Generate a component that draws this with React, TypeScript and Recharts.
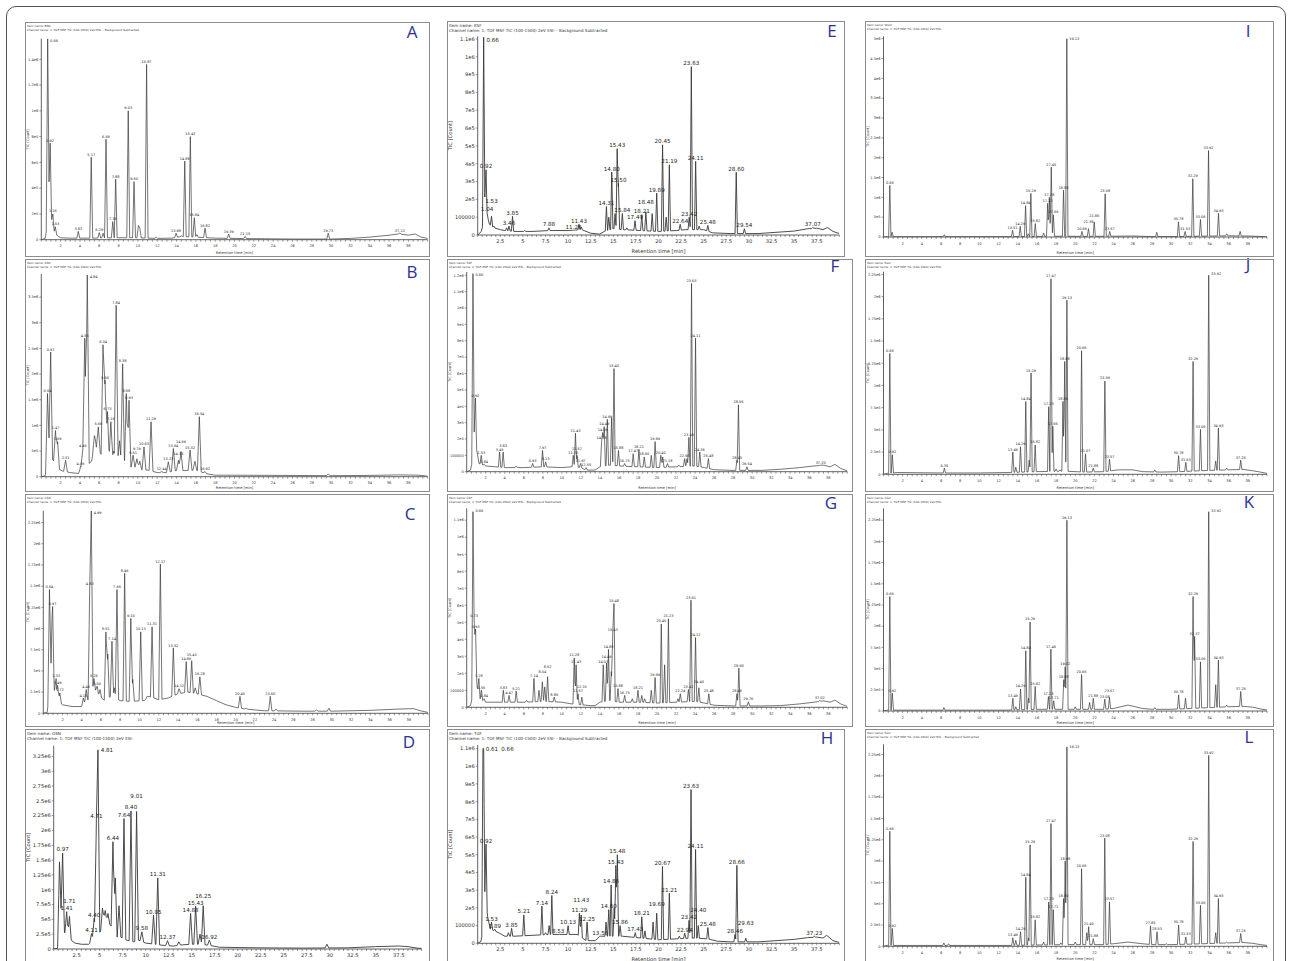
import React from "react";
import { LineChart, Line, XAxis, YAxis, LabelList, Label } from "recharts";

type Peak = [number, number, string];
type Pt = [number, number];

// ---- tick labels ----
const xTicksSmall = [2, 4, 6, 8, 10, 12, 14, 16, 18, 20, 22, 24, 26, 28, 30, 32, 34, 36, 38];
const xTicksBig = [2.5, 5, 7.5, 10, 12.5, 15, 17.5, 20, 22.5, 25, 27.5, 30, 32.5, 35, 37.5];

const aYTicks = [0, 2e5, 4e5, 6e5, 8e5, 1e6, 1.2e6, 1.4e6];
const aYLabels = ["0", "2e5", "4e5", "6e5", "8e5", "1e6", "1.2e6", "1.4e6"];
const bYTicks = [0, 5e5, 1e6, 1.5e6, 2e6, 2.5e6, 3e6, 3.5e6];
const bYLabels = ["0", "5e5", "1e6", "1.5e6", "2e6", "2.5e6", "3e6", "3.5e6"];
const qYTicks = [0, 2.5e5, 5e5, 7.5e5, 1e6, 1.25e6, 1.5e6, 1.75e6, 2e6, 2.25e6];
const qYLabels = ["0", "2.5e5", "5e5", "7.5e5", "1e6", "1.25e6", "1.5e6", "1.75e6", "2e6", "2.25e6"];
const dYTicks = [0, 2.5e5, 5e5, 7.5e5, 1e6, 1.25e6, 1.5e6, 1.75e6, 2e6, 2.25e6, 2.5e6, 2.75e6, 3e6, 3.25e6];
const dYLabels = ["0", "2.5e5", "5e5", "7.5e5", "1e6", "1.25e6", "1.5e6", "1.75e6", "2e6", "2.25e6", "2.5e6", "2.75e6", "3e6", "3.25e6"];
const eYTicks = [0, 1e5, 2e5, 3e5, 4e5, 5e5, 6e5, 7e5, 8e5, 9e5, 1e6, 1.1e6];
const eYLabels = ["0", "100000", "2e5", "3e5", "4e5", "5e5", "6e5", "7e5", "8e5", "9e5", "1e6", "1.1e6"];
const fYTicks = [0, 1e5, 2e5, 3e5, 4e5, 5e5, 6e5, 7e5, 8e5, 9e5, 1e6, 1.1e6, 1.2e6];
const fYLabels = ["0", "100000", "2e5", "3e5", "4e5", "5e5", "6e5", "7e5", "8e5", "9e5", "1e6", "1.1e6", "1.2e6"];
const iYTicks = [0, 5e5, 1e6, 1.5e6, 2e6, 2.5e6, 3e6, 3.5e6, 4e6, 4.5e6, 5e6];
const iYLabels = ["0", "5e5", "1e6", "1.5e6", "2e6", "2.5e6", "3e6", "3.5e6", "4e6", "4.5e6", "5e6"];

// ---- peaks: [retention time, apex TIC, label] ----
const aPeaks: Peak[] = [
  [0.66, 1.56e6, "0.66"], [0.92, 7.5e5, "0.92"], [1.2, 2.0e5, "1.16"], [1.45, 1.0e5, "1.53"], [3.83, 6.5e4, "3.83"],
  [5.17, 6.4e5, "5.17"], [6.0, 5.5e4, "6.29"], [6.4, 5e4, ""], [6.7, 7.8e5, "6.66"], [7.4, 1.4e5, "7.36"],
  [7.7, 4.7e5, "7.88"], [9.0, 1.0e6, "9.03"], [9.6, 4.5e5, "9.60"], [10.05, 1.1e5, ""], [10.2, 9e4, ""],
  [10.9, 1.36e6, "10.87"], [11.9, 2e4, ""], [13.95, 5e4, "13.98"], [14.5, 3e4, ""], [14.85, 6.1e5, "14.88"],
  [15.43, 8.0e5, "15.43"], [15.84, 1.7e5, "15.84"], [16.1, 4e4, ""], [16.95, 9e4, "16.82"], [19.4, 4.4e4, "19.39"],
  [21.1, 2.6e4, "21.15"], [29.7, 5e4, "29.73"], [37.12, 5.2e4, "37.12"],
];
const aBase: Pt[] = [
  [0, 0], [0.4, 1e4], [0.6, 1e5], [0.8, 3.5e5], [1.05, 1.5e5], [1.3, 5e4], [2, 1.5e4], [3, 1.2e4], [5, 1.2e4],
  [8, 1.5e4], [10, 1.5e4], [12, 1e4], [13.5, 1.2e4], [14.5, 2.5e4], [16, 2e4], [18, 1.2e4], [22, 8e3], [26, 5e3],
  [30, 5e3], [32, 1e4], [34, 2e4], [36, 3.5e4], [37, 4.5e4], [38, 3.5e4], [38.7, 4.5e4], [39.3, 2e4], [40, 1e4],
];

const bPeaks: Peak[] = [
  [0.64, 1.62e6, "0.64"], [0.97, 2.43e6, "0.97"], [1.47, 9.0e5, "1.47"], [1.69, 6.8e5, "1.69"], [2.51, 3.2e5, "2.51"],
  [4.06, 2.0e5, "4.06"], [4.3, 5.5e5, "4.45"], [4.5, 2.7e6, "4.55"], [4.76, 3.93e6, "4.84"], [5.5, 8e5, ""],
  [5.9, 9.7e5, "5.66"], [6.39, 2.57e6, "6.34"], [6.6, 1.88e6, "6.56"], [6.85, 1.27e6, "6.73"], [7.2, 1.07e6, "7.16"],
  [7.5, 5e5, ""], [7.75, 3.34e6, "7.84"], [8.1, 7e5, ""], [8.42, 2.2e6, "8.38"], [8.8, 1.62e6, "8.68"],
  [9.08, 1.49e6, "8.93"], [9.5, 4.2e5, "9.51"], [9.9, 3.5e5, "9.79"], [10.2, 3e5, ""], [10.63, 5.8e5, "10.63"],
  [11.36, 1.07e6, "11.29"], [12.46, 1e5, "12.44"], [13.15, 2.9e5, "13.23"], [13.67, 5.5e5, "13.64"],
  [14.19, 3.2e5, "14.35"], [14.46, 4.9e5, "14.69"], [15.4, 5.2e5, "15.32"], [15.9, 3e5, ""], [16.36, 1.17e6, "16.54"],
  [16.95, 1e5, "16.92"], [29.7, 5e4, ""],
];
const bBase: Pt[] = [
  [0, 0], [0.4, 2e4], [0.6, 1e5], [0.8, 4.5e5], [1.1, 3.5e5], [1.5, 2.5e5], [1.8, 1.5e5], [2.2, 1.1e5], [3, 8e4],
  [4, 6e4], [4.3, 1.5e5], [5.2, 3e5], [5.4, 5e5], [5.6, 6e5], [6, 5e5], [6.3, 4e5], [7, 3e5], [7.4, 3.5e5],
  [8, 3e5], [8.7, 1.5e5], [9.5, 2e5], [10.5, 1.3e5], [11, 1.3e5], [12, 8e4], [13, 8e4], [14, 1.2e5], [15, 1.2e5],
  [16, 1.3e5], [17, 6e4], [18, 3e4], [25, 2.5e4], [30, 2e4], [34, 2.5e4], [37, 3.5e4], [39, 3e4], [40, 1e4],
];

const cPeaks: Peak[] = [
  [0.64, 1.46e6, "0.64"], [0.97, 1.26e6, "0.97"], [1.33, 4.1e5, "1.33"], [1.49, 3.3e5, "1.49"], [1.72, 2.4e5, "1.72"],
  [4.16, 1.8e5, "4.16"], [4.46, 2.8e5, "4.46"], [4.83, 1.5e6, "4.83"], [4.99, 2.39e6, "4.99"], [5.26, 4.1e5, "5.26"],
  [5.6, 3.2e5, "5.60"], [5.9, 2.8e5, ""], [6.51, 9.6e5, "6.51"], [6.7, 7e5, ""], [7.14, 8.5e5, "7.14"],
  [7.4, 3e5, ""], [7.66, 1.46e6, "7.66"], [8.46, 1.65e6, "8.46"], [9.1, 1.12e6, "9.10"], [9.3, 4e5, ""],
  [10.13, 9.6e5, "10.13"], [10.8, 2e5, ""], [11.31, 1.02e6, "11.31"], [12.17, 1.76e6, "12.17"], [13.52, 7.7e5, "13.52"],
  [14.12, 2.9e5, "14.12"], [14.86, 6.1e5, "14.86"], [15.43, 6.2e5, "15.43"], [15.8, 3e5, ""], [16.28, 4.3e5, "16.28"],
  [20.45, 2e5, "20.45"], [21.1, 6e4, ""], [23.6, 2e5, "23.60"], [24.2, 5e4, ""], [28.4, 4e4, ""], [29.7, 6e4, ""],
];
const cBase: Pt[] = [
  [0, 0], [0.4, 1e4], [0.6, 2e5], [0.9, 7e5], [1.1, 3e5], [1.4, 1.5e5], [2, 1e5], [3, 8e4], [4, 8e4], [4.6, 1.5e5],
  [5.3, 3e5], [5.8, 2e5], [6.4, 1.5e5], [7, 2e5], [8, 1.5e5], [9, 1.4e5], [10.5, 1.5e5], [11, 2e5], [12, 1.6e5],
  [13, 1.8e5], [14, 2.3e5], [15, 2.5e5], [16, 2.3e5], [17, 2e5], [18, 1.5e5], [19, 1e5], [20, 7e4], [21, 5e4],
  [23, 3e4], [27, 2.5e4], [30, 2.5e4], [34, 3.5e4], [37, 5e4], [38.5, 5.5e4], [39.2, 3e4], [40, 1e4],
];

const dPeaks: Peak[] = [
  [0.63, 1.47e6, ""], [0.97, 1.62e6, "0.97"], [1.41, 6.3e5, "1.41"], [1.71, 5.5e5, "1.71"], [4.11, 2.6e5, "4.11"],
  [4.4, 5.2e5, "4.40"], [4.64, 2.18e6, "4.71"], [4.81, 3.36e6, "4.81"], [5.3, 6.9e5, ""], [5.6, 6.5e5, ""],
  [5.9, 6.0e5, ""], [6.44, 1.81e6, "6.44"], [6.7, 1.2e6, ""], [7.1, 7.3e5, ""], [7.64, 2.2e6, "7.64"],
  [8.4, 2.33e6, "8.40"], [9.01, 2.32e6, "9.01"], [9.58, 2.9e5, "9.58"], [10.85, 5.7e5, "10.85"], [11.31, 1.2e6, "11.31"],
  [12.37, 1.4e5, "12.37"], [13.6, 1.2e5, ""], [14.88, 6.0e5, "14.88"], [15.43, 7.2e5, "15.43"], [15.9, 2.5e5, ""],
  [16.25, 7.3e5, "16.25"], [16.92, 1.5e5, "16.92"], [29.7, 8e4, ""],
];
const dBase: Pt[] = [
  [0, 0], [0.4, 1e4], [0.55, 2e5], [0.8, 5e5], [1.1, 3e5], [1.3, 2.5e5], [1.5, 2e5], [1.9, 1.5e5], [2.3, 1e5],
  [3, 8e4], [3.8, 8e4], [4.3, 1.5e5], [5.1, 3e5], [5.3, 5e5], [6.2, 4e5], [6.9, 2e5], [7.3, 2e5], [7.9, 1.5e5],
  [8.7, 1.2e5], [9.2, 1.5e5], [10, 1e5], [11, 8e4], [12, 6e4], [13, 5e4], [14, 7e4], [15, 8e4], [16, 8e4],
  [17, 6e4], [18, 3e4], [22, 2e4], [27, 1.5e4], [32, 2e4], [35, 4e4], [37.5, 5e4], [38.5, 4e4], [39.5, 1.5e4], [40, 1e4],
];

const ePeaks: Peak[] = [
  [0.66, 1.11e6, "0.66"], [0.92, 3.66e5, "0.92"], [1.04, 1.23e5, "1.04"], [1.53, 1.05e5, "1.53"], [1.8, 5e4, ""],
  [3.2, 4e4, ""], [3.46, 5e4, "3.46"], [3.85, 1.05e5, "3.85"], [5.2, 2.5e4, ""], [7.88, 4e4, "7.88"],
  [10.6, 2.5e4, "11.28"], [11.2, 6e4, "11.43"], [11.45, 4.5e4, ""], [14.24, 1.6e5, "14.31"], [14.5, 1e5, ""],
  [14.83, 3.53e5, "14.80"], [15.2, 1.2e5, ""], [15.43, 4.84e5, "15.43"], [15.57, 2.9e5, "15.50"], [16.0, 1.2e5, "15.84"],
  [16.5, 4e4, ""], [17.4, 8e4, "17.49"], [18.15, 1.14e5, "18.21"], [18.6, 1.3e5, "18.48"], [19.3, 1.2e5, ""],
  [19.8, 2.35e5, "19.89"], [20.45, 5.06e5, "20.45"], [20.85, 1e5, ""], [21.2, 3.94e5, "21.19"], [22.4, 6e4, "22.64"],
  [23.4, 1.0e5, "23.42"], [23.63, 9.45e5, "23.63"], [24.11, 4.13e5, "24.11"], [24.5, 5e4, ""], [25.46, 5.4e4, "25.48"],
  [28.6, 3.52e5, "28.60"], [29.5, 3.5e4, "29.54"], [37.07, 4.3e4, "37.07"],
];
const eBase: Pt[] = [
  [0, 0], [0.4, 2e4], [0.55, 5e4], [0.8, 2.2e5], [1.0, 1.2e5], [1.3, 6e4], [1.8, 4e4], [2.5, 3e4], [3, 2.5e4],
  [4, 2e4], [6, 2e4], [8, 2.5e4], [10, 2.5e4], [11.5, 3e4], [12.5, 1e4], [13.5, 5e3], [14, 2e4], [15, 3.5e4],
  [16, 3e4], [18, 2.5e4], [20, 2e4], [22, 2.5e4], [23, 3e4], [25, 3e4], [26, 1.2e4], [28, 8e3], [31, 8e3],
  [33, 1.5e4], [35, 2.2e4], [36.5, 3.5e4], [37.5, 3.8e4], [38.2, 3e4], [38.7, 4.2e4], [39.3, 2e4], [40, 8e3],
];

const fPeaks: Peak[] = [
  [0.66, 1.21e6, "0.66"], [0.92, 4.5e5, "0.92"], [1.53, 1.0e5, "1.53"], [1.84, 4.5e4, "1.84"], [3.46, 1.2e5, "3.46"],
  [3.83, 1.2e5, "3.83"], [5.2, 3.5e4, ""], [6.93, 5e4, "6.93"], [7.97, 1.3e5, "7.97"], [8.3, 6e4, "8.13"],
  [11.2, 1e5, "11.26"], [11.43, 2.35e5, "11.43"], [11.6, 1e5, "11.57"], [11.97, 5e4, "11.97"], [12.55, 2.5e4, "12.55"],
  [14.18, 1.9e5, "14.28"], [14.3, 2.4e5, "14.09"], [14.45, 2.75e5, "14.49"], [14.78, 3.2e5, "14.69"], [15.23, 3.3e5, ""],
  [15.48, 6.3e5, "15.40"], [15.95, 1.3e5, "15.88"], [16.6, 5e4, "16.75"], [17.5, 1.1e5, "17.47"], [18.1, 1.37e5, "18.21"],
  [18.66, 9e4, "18.60"], [19.4, 1e5, ""], [19.8, 1.84e5, "19.69"], [20.4, 1.0e5, "20.40"], [20.6, 9e4, ""],
  [21.1, 5e4, "21.18"], [22.3, 4e4, ""], [22.9, 8e4, "22.93"], [23.15, 8e4, ""], [23.35, 2.1e5, "23.40"],
  [23.63, 1.15e6, "23.63"], [24.05, 8.16e5, "24.11"], [24.5, 1.2e5, "24.36"], [25.4, 8e4, "25.48"], [28.4, 7e4, "28.45"],
  [28.56, 4.08e5, "28.56"], [29.45, 3e4, "29.54"], [37.2, 4e4, "37.20"],
];
const fBase: Pt[] = [
  [0, 0], [0.4, 1e4], [0.55, 5e4], [0.8, 2.5e5], [1.0, 1.5e5], [1.3, 5e4], [2, 3.5e4], [3, 3e4], [4, 2.5e4],
  [6, 2.5e4], [8, 3e4], [10, 2.5e4], [11, 3e4], [12, 2.5e4], [12.5, 1e4], [13.5, 1e4], [14, 3e4], [15, 4e4],
  [16, 3.5e4], [18, 3e4], [20, 2.5e4], [22, 3e4], [24, 3.5e4], [25, 2.5e4], [26, 1.2e4], [28, 8e3], [31, 8e3],
  [33, 1.5e4], [35, 2.5e4], [36.5, 3.5e4], [37.5, 4e4], [38.2, 3e4], [38.7, 4.5e4], [39.3, 2e4], [40, 5e3],
];

const gPeaks: Peak[] = [
  [0.66, 1.15e6, "0.66"], [0.78, 5.2e5, "0.73"], [0.93, 4.6e5, "0.93"], [1.28, 1.7e5, "1.28"], [1.55, 1.0e5, "1.55"],
  [1.84, 5e4, "1.84"], [3.85, 1.0e5, "3.83"], [4.45, 7e4, "4.47"], [5.2, 9.5e4, "5.21"], [6.3, 4e4, ""],
  [7.07, 1.7e5, "7.14"], [7.6, 1e5, ""], [7.95, 1.5e5, "8.04"], [8.2, 1.2e5, ""], [8.5, 1.8e5, "8.52"],
  [9.2, 6e4, "8.86"], [11.3, 2.9e5, "11.28"], [11.5, 2.5e5, "11.43"], [11.7, 8e4, "11.57"], [12.1, 6e4, "12.15"],
  [14.35, 2.5e5, "14.03"], [14.7, 2.6e5, "14.49"], [14.9, 3.4e5, "14.88"], [15.2, 2.1e5, ""], [15.35, 4.4e5, "15.43"],
  [15.48, 6.1e5, "15.48"], [15.9, 1.1e5, "15.88"], [16.6, 7e4, "16.75"], [17.4, 5e4, ""], [18.0, 1.0e5, "18.21"],
  [18.4, 7e4, ""], [18.7, 5e4, ""], [19.4, 1.0e5, ""], [19.8, 1.75e5, "19.69"], [20.45, 4.9e5, "20.45"],
  [20.8, 2.5e5, ""], [21.2, 5.2e5, "21.23"], [22.2, 5e4, ""], [22.45, 8e4, "22.24"], [23.3, 1.05e5, "23.42"],
  [23.57, 6.3e5, "23.61"], [24.05, 4.1e5, "24.12"], [24.4, 1.15e5, "24.40"], [25.45, 8e4, "25.48"], [28.4, 8e4, "28.46"],
  [28.6, 2.3e5, "28.60"], [29.6, 3.2e4, "29.76"], [37.1, 4e4, "37.02"],
];
const gBase: Pt[] = [
  [0, 0], [0.4, 1e4], [0.55, 5e4], [0.85, 3e5], [1.1, 1.2e5], [1.4, 5e4], [2, 3e4], [3, 3e4], [6, 3e4],
  [8, 3.5e4], [10, 3e4], [11, 2e4], [12, 1.5e4], [13, 1e4], [13.5, 1e4], [14, 3e4], [15, 4e4], [16, 3e4],
  [18, 3e4], [20, 2.5e4], [22, 3e4], [24, 3.5e4], [25, 2.5e4], [26, 1.2e4], [28, 8e3], [31, 8e3], [33, 1e4],
  [35, 2e4], [36.5, 3e4], [37.5, 3.8e4], [38.2, 3e4], [38.7, 4.2e4], [39.3, 2e4], [40, 5e3],
];

const hPeaks: Peak[] = [
  [0.58, 1.1e6, "0.61"], [0.66, 1.1e6, "0.66"], [0.92, 5.6e5, "0.92"], [1.53, 1.2e5, "1.53"], [1.89, 8e4, "1.89"],
  [3.4, 6e4, ""], [3.75, 8.5e4, "3.85"], [5.1, 1.6e5, "5.21"], [7.1, 2.1e5, "7.14"], [7.5, 6e4, ""],
  [7.9, 1e5, ""], [8.2, 2.7e5, "8.24"], [8.9, 5e4, "8.53"], [10.0, 1.0e5, "10.13"], [11.25, 1.7e5, "11.29"],
  [11.45, 1.6e5, "11.43"], [12.1, 1.2e5, "12.25"], [13.56, 4e4, "13.56"], [14.2, 1.2e5, ""], [14.5, 1.9e5, "14.60"],
  [14.76, 3.3e5, "14.86"], [15.1, 2e5, ""], [15.28, 4.4e5, "15.43"], [15.45, 5.0e5, "15.48"], [15.75, 1e5, "15.86"],
  [17.43, 6e4, "17.43"], [18.15, 1.5e5, "18.21"], [18.5, 7e4, ""], [19.4, 1.2e5, ""], [19.8, 1.7e5, "19.69"],
  [20.44, 4.34e5, "20.67"], [21.2, 2.83e5, "21.21"], [22.3, 4e4, ""], [22.9, 5.7e4, "22.94"], [23.38, 1.3e5, "23.42"],
  [23.6, 8.68e5, "23.63"], [24.1, 5.3e5, "24.11"], [24.4, 1.0e5, "24.40"], [25.46, 8.9e4, "25.48"], [28.46, 5e4, "28.46"],
  [28.67, 4.4e5, "28.66"], [29.66, 2.8e4, "29.63"], [37.23, 4e4, "37.23"],
];
const hBase: Pt[] = [
  [0, 0], [0.35, 1e4], [0.5, 5e4], [0.8, 3e5], [1.1, 1.5e5], [1.4, 8e4], [2.3, 6e4], [3, 4e4], [4, 4e4],
  [6, 4.5e4], [8, 5e4], [10, 5e4], [11, 5e4], [12, 1.5e4], [13, 1.5e4], [13.5, 4e4], [16, 4e4], [17, 3.5e4],
  [20, 2e4], [22, 2.5e4], [24, 3e4], [25.5, 2.5e4], [26.5, 1.2e4], [28, 8e3], [31, 8e3], [33, 1.5e4], [35, 2.2e4],
  [36.5, 3.2e4], [37.5, 3.5e4], [38.2, 3e4], [38.6, 4.5e4], [39.3, 1.5e4], [40, 5e3],
];

const iPeaks: Peak[] = [
  [0.66, 1.3e6, "0.66"], [0.9, 1.2e5, ""], [6.34, 6e4, ""], [13.46, 1.7e5, "13.51"], [14.26, 2.7e5, "14.29"],
  [14.82, 7.9e5, "14.84"], [15.1, 8e4, ""], [15.37, 1.1e6, "15.29"], [15.83, 3.4e5, "15.82"], [16.7, 1e5, ""],
  [17.12, 8.5e5, "17.22"], [17.3, 1.0e6, "17.28"], [17.5, 1.76e6, "17.45"], [17.72, 5.6e5, "17.66"],
  [18.78, 1.18e6, "18.88"], [19.12, 5.0e6, "19.13"], [20.7, 1.4e5, "20.66"], [21.38, 2.1e5, "21.38"],
  [21.98, 3.8e5, "21.86"], [23.12, 1.09e6, "23.08"], [23.6, 1.4e5, "23.57"], [28.5, 1.2e5, ""], [30.77, 3.8e5, "30.78"],
  [31.46, 1.4e5, "31.53"], [32.26, 1.47e6, "32.29"], [33.06, 4.4e5, "33.06"], [33.9, 2.18e6, "33.92"],
  [34.94, 6e5, "34.93"], [35.8, 8e4, ""], [37.2, 1.4e5, ""],
];
const iBase: Pt[] = [
  [0, 0], [0.4, 1e4], [1.5, 8e3], [6, 8e3], [13, 1e4], [16, 1.5e4], [19, 2e4], [21, 1.5e4], [24, 2e4], [26, 2.5e4],
  [28, 1e4], [30, 1e4], [33, 2e4], [36, 3e4], [38, 2.5e4], [39.2, 1.5e4], [40, 5e3],
];

const jPeaks: Peak[] = [
  [0.66, 1.36e6, "0.66"], [0.92, 2.2e5, "0.92"], [6.35, 7e4, "6.35"], [13.49, 2.5e5, "13.49"], [13.8, 8e4, ""],
  [14.29, 3.1e5, "14.29"], [14.84, 8.2e5, "14.84"], [15.2, 1.6e5, ""], [15.39, 1.14e6, "15.29"], [15.82, 3.3e5, "15.82"],
  [17.23, 7.6e5, "17.23"], [17.47, 2.2e6, "17.47"], [17.66, 5.4e5, "17.66"], [18.0, 6e4, ""], [18.4, 5e4, ""],
  [18.72, 8.2e5, "18.80"], [18.9, 1.27e6, "18.88"], [19.13, 1.96e6, "19.13"], [20.66, 1.39e6, "20.66"],
  [21.07, 2.3e5, "21.07"], [21.88, 7e4, "21.88"], [23.09, 1.05e6, "23.09"], [23.57, 1.7e5, "23.57"], [28.3, 5e4, ""],
  [30.78, 2.1e5, "30.78"], [31.53, 1.35e5, "31.53"], [32.29, 1.27e6, "32.29"], [33.06, 5.06e5, "33.06"],
  [33.92, 2.24e6, "33.92"], [34.65, 1.5e5, ""], [34.93, 5.2e5, "34.93"], [35.8, 7e4, ""], [37.26, 1.6e5, "37.26"],
];
const jBase: Pt[] = [
  [0, 0], [0.4, 1e4], [1.5, 2e4], [6, 1.5e4], [10, 1.5e4], [13, 2e4], [16, 3e4], [19, 3.5e4], [21, 2.5e4], [23, 3e4],
  [24.5, 5e4], [26, 5e4], [27, 3e4], [29, 2.5e4], [31, 3e4], [33, 4e4], [36, 5e4], [37.5, 5.5e4], [38.5, 4e4],
  [39.3, 2.5e4], [40, 1e4],
];

const kPeaks: Peak[] = [
  [0.66, 1.35e6, "0.66"], [0.92, 2.1e5, "0.92"], [6.3, 4e4, ""], [13.49, 1.5e5, "13.49"], [13.8, 5e4, ""],
  [14.29, 2.6e5, "14.29"], [14.84, 7.1e5, "14.84"], [15.12, 1.5e5, ""], [15.29, 1.05e6, "15.29"], [15.82, 2.9e5, "15.82"],
  [17.2, 1.7e5, "17.23"], [17.46, 7.3e5, "17.46"], [17.75, 1.2e5, "17.71"], [18.8, 3.7e5, "18.88"], [18.95, 5.2e5, "19.02"],
  [19.13, 2.25e6, "19.13"], [20.0, 5e4, ""], [20.66, 4.3e5, "20.66"], [21.5, 1e5, ""], [21.88, 1.5e5, "21.88"],
  [23.08, 1.4e5, "23.08"], [23.57, 1.6e5, "23.57"], [28.3, 4e4, ""], [30.78, 1.9e5, "30.78"], [31.5, 1.5e5, ""],
  [32.29, 1.35e6, "32.29"], [32.45, 8.8e5, "32.37"], [33.06, 5.8e5, "33.06"], [33.92, 2.35e6, "33.92"],
  [34.65, 3.1e5, ""], [34.93, 6e5, "34.93"], [35.8, 7e4, ""], [37.26, 2.3e5, "37.26"],
];
const kBase: Pt[] = [
  [0, 0], [0.4, 1e4], [1.5, 1e4], [13, 1e4], [16, 2e4], [19, 2e4], [23, 2e4], [24, 3e4], [25.5, 7e4], [27, 3e4],
  [28, 2e4], [30, 2e4], [32, 3e4], [36, 5e4], [37.5, 5.5e4], [38.5, 4.5e4], [39.3, 2.5e4], [40, 1e4],
];

const lPeaks: Peak[] = [
  [0.66, 1.35e6, "0.66"], [0.92, 2.1e5, "0.92"], [6.3, 4e4, ""], [6.8, 3e4, ""], [13.49, 1.0e5, "13.49"],
  [13.8, 7e4, ""], [14.29, 1.7e5, "14.29"], [14.84, 8.1e5, "14.84"], [15.12, 1e5, ""], [15.29, 1.19e6, "15.29"],
  [15.82, 3.1e5, "15.82"], [16.7, 5e4, ""], [17.23, 5.2e5, "17.23"], [17.47, 1.44e6, "17.47"], [17.71, 4.3e5, "17.71"],
  [18.5, 4e4, ""], [18.78, 5.6e5, "18.80"], [18.95, 1.0e6, "18.98"], [19.13, 2.34e6, "19.13"], [20.0, 5e4, ""],
  [20.66, 9.1e5, "20.66"], [21.2, 1.6e5, ""], [21.4, 2.3e5, "21.40"], [21.88, 9e4, "21.88"], [23.08, 1.27e6, "23.08"],
  [23.57, 5.2e5, "23.57"], [27.85, 2.4e5, "27.85"], [28.53, 1.7e5, "28.53"], [29.5, 3e4, ""], [30.78, 2.5e5, "30.78"],
  [31.53, 1.1e5, "31.53"], [32.29, 1.23e6, "32.29"], [33.06, 4.8e5, "33.06"], [33.92, 2.24e6, "33.92"],
  [34.65, 1.6e5, ""], [34.93, 5.6e5, "34.93"], [35.8, 5e4, ""], [37.26, 1.5e5, "37.26"],
];
const lBase: Pt[] = [
  [0, 0], [0.4, 1e4], [1.5, 1e4], [13, 1e4], [16, 1.5e4], [19, 2e4], [23, 2e4], [24, 3e4], [25.5, 5e4], [27, 3e4],
  [28, 2e4], [30, 2e4], [32, 2.5e4], [36, 4e4], [37.5, 4.5e4], [38.5, 3.5e4], [39.3, 2e4], [40, 1e4],
];

const chanFull = "Channel name: 1: TOF MSF TIC (100-1500) 2eV ESI- - Background Subtracted";
const chanShort = "Channel name: 1: TOF MSF TIC (100-1500) 2eV ESI-";

type Cfg = {
  letter: string; name: string; chan: string;
  box: [number, number, number, number]; plot: [number, number, number, number];
  letterPos: [number, number]; big: boolean; w: number; xlabOff: number | null;
  yTop: number; yTicks: number[]; yLabels: string[]; peaks: Peak[]; base: Pt[];
};

const panels: Cfg[] = [
  { letter: "A", name: "BSN", chan: chanFull, box: [25, 22, 430, 257], plot: [41.3, 38.7, 427.7, 239.7], letterPos: [412, 32], big: false, w: 0.15, xlabOff: 3, yTop: 1.56e6, yTicks: aYTicks, yLabels: aYLabels, peaks: aPeaks, base: aBase },
  { letter: "B", name: "SSN", chan: chanShort, box: [25, 259, 430, 492], plot: [41.3, 274, 427.7, 476.7], letterPos: [412, 272], big: false, w: 0.2, xlabOff: 3, yTop: 3.95e6, yTicks: bYTicks, yLabels: bYLabels, peaks: bPeaks, base: bBase },
  { letter: "C", name: "CSN", chan: chanShort, box: [25, 494, 430, 727], plot: [43.3, 510.7, 428, 713.3], letterPos: [410, 514], big: false, w: 0.17, xlabOff: 3, yTop: 2.39e6, yTicks: qYTicks, yLabels: qYLabels, peaks: cPeaks, base: cBase },
  { letter: "D", name: "OSN", chan: chanShort, box: [25, 729, 430, 975], plot: [53.7, 745.7, 421.7, 949], letterPos: [409, 742], big: true, w: 0.2, xlabOff: null, yTop: 3.43e6, yTicks: dYTicks, yLabels: dYLabels, peaks: dPeaks, base: dBase },
  { letter: "E", name: "KSF", chan: chanFull, box: [447, 21, 845, 257], plot: [477.7, 36.3, 839.3, 235], letterPos: [832, 31], big: true, w: 0.13, xlabOff: 4, yTop: 1.115e6, yTicks: eYTicks, yLabels: eYLabels, peaks: ePeaks, base: eBase },
  { letter: "F", name: "SSF", chan: chanFull, box: [447, 259, 853, 492], plot: [466.7, 272, 847.3, 471.7], letterPos: [835, 266], big: false, w: 0.13, xlabOff: 3, yTop: 1.22e6, yTicks: fYTicks, yLabels: fYLabels, peaks: fPeaks, base: fBase },
  { letter: "G", name: "CSF", chan: chanFull, box: [447, 494, 853, 727], plot: [466.7, 508.3, 847.3, 707.3], letterPos: [831, 503], big: false, w: 0.13, xlabOff: 3, yTop: 1.17e6, yTicks: eYTicks, yLabels: eYLabels, peaks: gPeaks, base: gBase },
  { letter: "H", name: "TGF", chan: chanFull, box: [447, 729, 845, 975], plot: [477.7, 745, 839.3, 943.3], letterPos: [827, 738], big: true, w: 0.13, xlabOff: 14, yTop: 1.12e6, yTicks: eYTicks, yLabels: eYLabels, peaks: hPeaks, base: hBase },
  { letter: "I", name: "WGV", chan: chanShort, box: [865, 21, 1274, 257], plot: [883.5, 36.3, 1267, 237], letterPos: [1248, 31], big: false, w: 0.12, xlabOff: 3, yTop: 5.06e6, yTicks: iYTicks, yLabels: iYLabels, peaks: iPeaks, base: iBase },
  { letter: "J", name: "SGV", chan: chanShort, box: [865, 259, 1274, 492], plot: [883.5, 271.7, 1267, 474.3], letterPos: [1248, 264], big: false, w: 0.12, xlabOff: 3, yTop: 2.28e6, yTicks: qYTicks, yLabels: qYLabels, peaks: jPeaks, base: jBase },
  { letter: "K", name: "CGV", chan: chanShort, box: [865, 494, 1274, 727], plot: [883.5, 508.3, 1267, 711], letterPos: [1249, 502], big: false, w: 0.12, xlabOff: 3, yTop: 2.39e6, yTicks: qYTicks, yLabels: qYLabels, peaks: kPeaks, base: kBase },
  { letter: "L", name: "SGV", chan: chanFull, box: [865, 729, 1274, 975], plot: [883.5, 744.3, 1267, 946.3], letterPos: [1249, 737], big: false, w: 0.12, xlabOff: 15, yTop: 2.37e6, yTicks: qYTicks, yLabels: qYLabels, peaks: lPeaks, base: lBase },
];

const baseAt = (base: Pt[], t: number) => {
  for (let i = 1; i < base.length; i++) {
    if (t <= base[i][0]) {
      const [t0, v0] = base[i - 1];
      const [t1, v1] = base[i];
      return v0 + ((v1 - v0) * (t - t0)) / (t1 - t0);
    }
  }
  return base[base.length - 1][1];
};

type Row = { t: number; v: number; lab?: string };

// table for the Line: baseline points plus apex and feet of every peak
function buildSeries(peaks: Peak[], base: Pt[], w: number): Row[] {
  const ts = new Set<number>();
  base.forEach((b) => ts.add(b[0]));
  peaks.forEach((p) => {
    ts.add(p[0]);
    ts.add(Math.round((p[0] - w) * 1000) / 1000);
    ts.add(Math.round((p[0] + w) * 1000) / 1000);
  });
  const sorted = [...ts].filter((t) => t >= 0 && t <= 40).sort((a, b) => a - b);
  return sorted.map((t) => {
    const b = baseAt(base, t);
    let v = b;
    let lab: string | undefined;
    peaks.forEach((p) => {
      const d = Math.abs(t - p[0]);
      if (d < w) {
        const pv = b + Math.max(0, p[1] - baseAt(base, p[0])) * (1 - d / w);
        if (pv > v) v = pv;
      }
      if (d < 1e-9 && p[2]) lab = p[2];
    });
    return { t, v, lab };
  });
}

// move crowded peak labels up, or beside the apex when there is no room above
function placeLabels(data: Row[], c: Cfg, fs: number) {
  const [L, T] = c.box;
  const [pl, pt, pr, pb] = c.plot;
  const top = pt - T - 1;
  const boxes: number[][] = [];
  const out: { lab: string; x: number; dx: number; dy: number }[] = [];
  const free = (x: number, y: number, tw: number, th: number) =>
    !boxes.some((b) => x - tw / 2 < b[1] && x + tw / 2 > b[0] && y - th < b[3] && y > b[2]);
  data.forEach((d) => {
    if (!d.lab) return;
    const x = pl - L + (d.t / 40) * (pr - pl);
    const y0 = pt - T + (1 - d.v / c.yTop) * (pb - pt) - 1.5;
    const tw = d.lab.length * fs * 0.62;
    const th = fs * 1.05;
    let dx = 0;
    let dy = 0;
    let done = false;
    for (let k = 0; k < 10 && !done; k++) {
      const y = y0 - k * th;
      if (y - th < top) break;
      if (free(x, y, tw, th)) {
        dy = -k * th;
        done = true;
      }
    }
    if (!done) {
      const ys = Math.max(y0, top + th + 1);
      for (let m = 0; m < 6 && !done; m++) {
        const ox = tw / 2 + 2 + m * (tw + 1);
        if (free(x + ox, ys, tw, th)) {
          dx = ox;
          dy = ys - y0;
          done = true;
        }
      }
    }
    boxes.push([x + dx - tw / 2, x + dx + tw / 2, y0 + dy - th, y0 + dy]);
    out.push({ lab: d.lab, x, dx, dy });
  });
  return out;
}

const FONT = "DejaVu Sans, Verdana, sans-serif";
const minorTicks = Array.from({ length: 81 }, (_, i) => i / 2);

function Panel({ c }: { c: Cfg }) {
  const [L, T, R, B] = c.box;
  const [pl, pt, pr, pb] = c.plot;
  const W = R - L;
  const H = B - T;
  const data = buildSeries(c.peaks, c.base, c.w);
  const tickFs = c.big ? 5.2 : 3.6;
  const labFs = c.big ? 5.6 : 3.5;
  const headFs = c.big ? 4.1 : 2.9;
  const majors = c.big ? xTicksBig : xTicksSmall;
  const stroke = "#3a3a3a";
  const placed = placeLabels(data, c, labFs);
  const renderLab = (p: any) => {
    if (!p.value) return null;
    let dx = 0;
    let dy = 0;
    let best = Infinity;
    placed.forEach((o) => {
      if (o.lab === p.value && Math.abs(o.x - p.x) < best) {
        best = Math.abs(o.x - p.x);
        dx = o.dx;
        dy = o.dy;
      }
    });
    return (
      <text x={p.x + dx} y={p.y - 1.5 + dy} textAnchor="middle" fontSize={labFs} fill="#222" fontFamily={FONT}>
        {p.value}
      </text>
    );
  };
  return (
    <div style={{ position: "absolute", left: L, top: T, width: W, height: H, background: "#fff" }}>
      <LineChart width={W} height={H} data={data} margin={{ top: pt - T, right: R - pr, bottom: 0, left: 0 }}>
        <XAxis
          type="number"
          dataKey="t"
          domain={[0, 40]}
          ticks={minorTicks}
          interval={0}
          allowDataOverflow
          height={B - pb}
          tickSize={2}
          tickMargin={c.big ? 2 : 3}
          tickFormatter={(v: number) => (majors.includes(v) ? String(v) : "")}
          tick={{ fontSize: tickFs, fill: "#333", fontFamily: FONT }}
          axisLine={{ stroke, strokeWidth: 0.8 }}
          tickLine={{ stroke, strokeWidth: 0.5 }}
        >
          {c.xlabOff !== null && (
            <Label
              value="Retention time [min]"
              position="insideBottom"
              offset={c.xlabOff}
              style={{ fontSize: tickFs, fill: "#333", fontFamily: FONT }}
            />
          )}
        </XAxis>
        <YAxis
          type="number"
          domain={[0, c.yTop]}
          ticks={c.yTicks}
          interval={0}
          allowDataOverflow
          width={pl - L}
          tickSize={2}
          tickMargin={1}
          tickFormatter={(v: number) => c.yLabels[c.yTicks.indexOf(v)] ?? ""}
          tick={{ fontSize: tickFs, fill: "#333", fontFamily: FONT }}
          axisLine={{ stroke, strokeWidth: 0.8 }}
          tickLine={{ stroke, strokeWidth: 0.5 }}
        >
          <Label
            value="TIC [Count]"
            angle={-90}
            position="insideLeft"
            offset={3}
            style={{ fontSize: tickFs, fill: "#333", fontFamily: FONT, textAnchor: "middle" }}
          />
        </YAxis>
        <Line
          type="linear"
          dataKey="v"
          stroke={stroke}
          strokeWidth={c.big ? 0.9 : 0.7}
          dot={false}
          activeDot={false}
          isAnimationActive={false}
        >
          <LabelList dataKey="lab" content={renderLab} />
        </Line>
      </LineChart>
      <div style={{ position: "absolute", left: 2, top: 1.5, fontFamily: FONT, fontSize: headFs, lineHeight: `${headFs * 1.45}px`, color: "#333", whiteSpace: "nowrap" }}>
        <div>Item name: {c.name}</div>
        <div>{c.chan}</div>
      </div>
      <div
        style={{
          position: "absolute",
          left: c.letterPos[0] - L - 10,
          top: c.letterPos[1] - T - 11,
          width: 20,
          textAlign: "center",
          fontFamily: "Open Sans, Liberation Sans, sans-serif",
          fontSize: 17,
          lineHeight: "22px",
          color: "#2e3192",
        }}
      >
        {c.letter}
      </div>
      <div style={{ position: "absolute", inset: 0, border: "1px solid #8c8c8c", pointerEvents: "none" }} />
    </div>
  );
}

export default function App() {
  return (
    <div style={{ position: "absolute", left: 0, top: 0, width: 1290, height: 961, overflow: "hidden", background: "#fff" }}>
      <div style={{ position: "absolute", left: 6, top: 6, width: 1278, height: 990, border: "1px solid #555", borderRadius: 10 }} />
      {panels.map((c) => (
        <Panel key={c.letter} c={c} />
      ))}
    </div>
  );
}
